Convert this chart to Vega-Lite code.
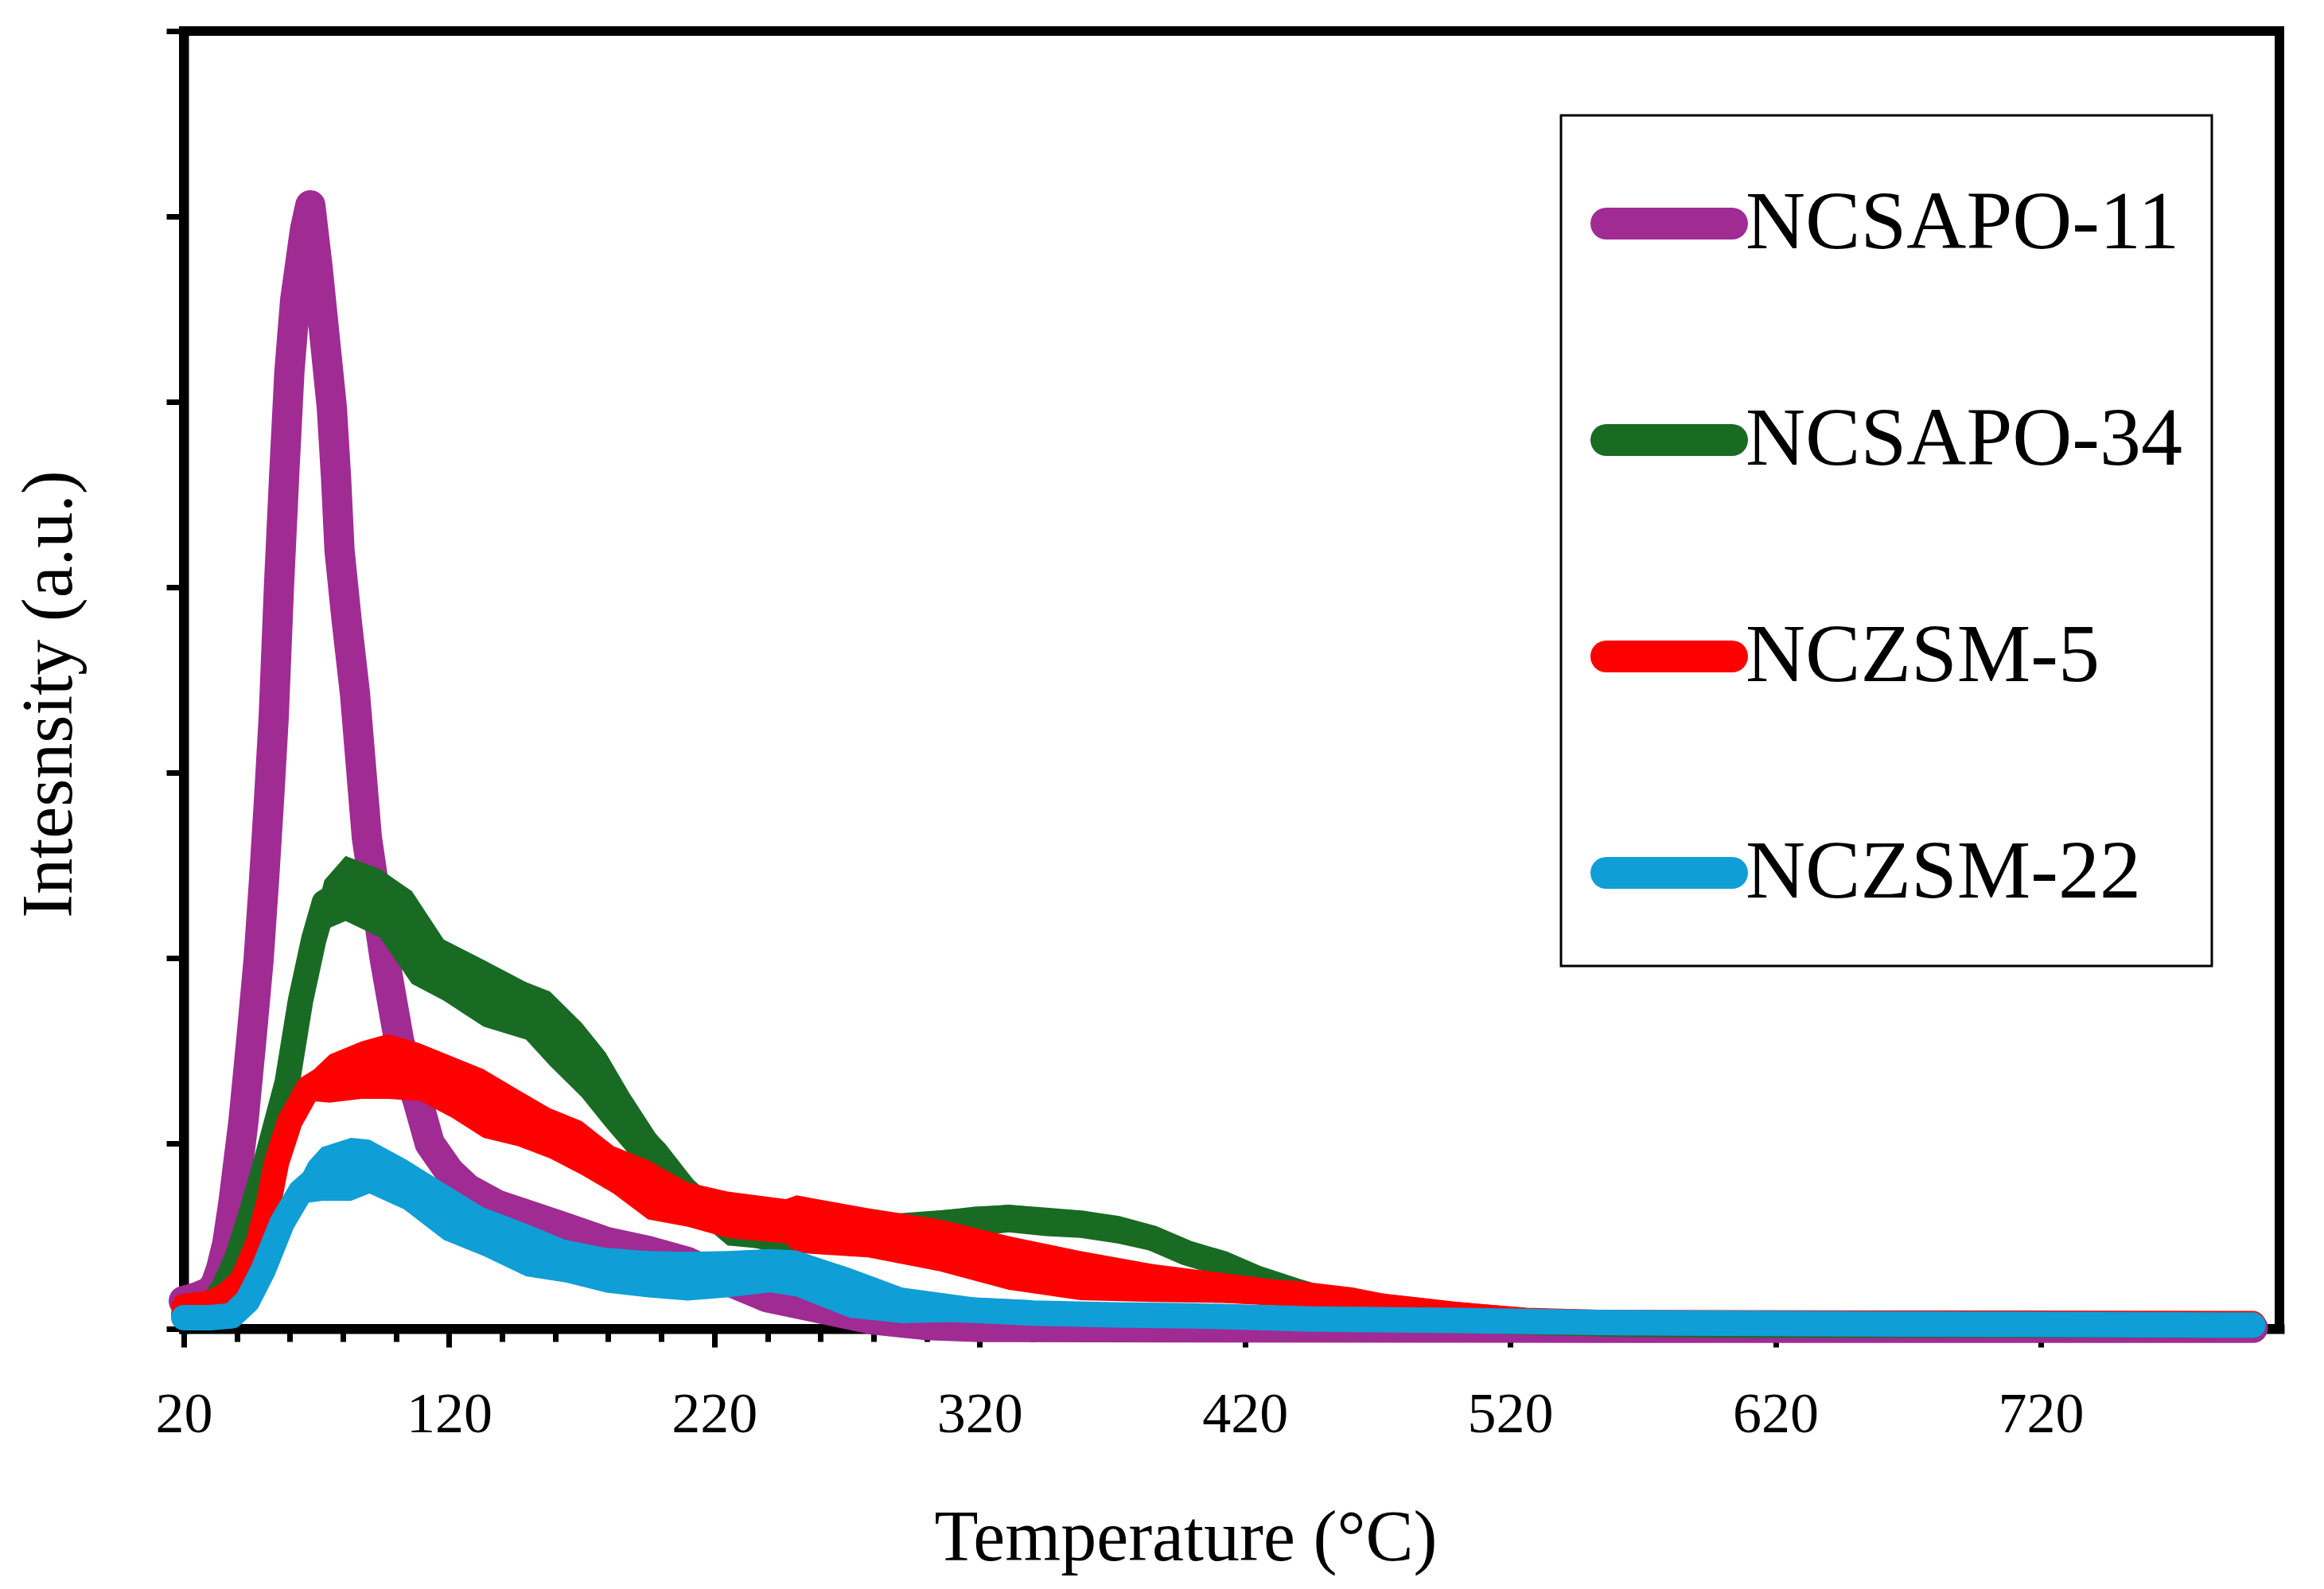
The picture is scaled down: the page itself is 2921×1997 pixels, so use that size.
{
  "$schema": "https://vega.github.io/schema/vega-lite/v6.json",
  "width": 2634,
  "height": 1631,
  "autosize": "none",
  "padding": {"left": 231, "top": 39, "right": 56, "bottom": 327},
  "background": "white",
  "datasets": {
    "tpd": [
      {"Sample": "NCSAPO-11", "T": 20, "I": 0.15}, {"Sample": "NCSAPO-11", "T": 25, "I": 0.17}, {"Sample": "NCSAPO-11", "T": 30, "I": 0.2}, {"Sample": "NCSAPO-11", "T": 32, "I": 0.24}, {"Sample": "NCSAPO-11", "T": 34, "I": 0.32}, {"Sample": "NCSAPO-11", "T": 36.4, "I": 0.46}, {"Sample": "NCSAPO-11", "T": 38.7, "I": 0.68}, {"Sample": "NCSAPO-11", "T": 42.5, "I": 1.12}, {"Sample": "NCSAPO-11", "T": 45.4, "I": 1.55}, {"Sample": "NCSAPO-11", "T": 48.2, "I": 1.99}, {"Sample": "NCSAPO-11", "T": 50.3, "I": 2.43}, {"Sample": "NCSAPO-11", "T": 52.2, "I": 2.87}, {"Sample": "NCSAPO-11", "T": 53.9, "I": 3.3}, {"Sample": "NCSAPO-11", "T": 55.9, "I": 4.01}, {"Sample": "NCSAPO-11", "T": 57.8, "I": 4.59}, {"Sample": "NCSAPO-11", "T": 59.8, "I": 5.16}, {"Sample": "NCSAPO-11", "T": 62, "I": 5.55}, {"Sample": "NCSAPO-11", "T": 65.7, "I": 5.93}, {"Sample": "NCSAPO-11", "T": 67.7, "I": 6.06}, {"Sample": "NCSAPO-11", "T": 70.4, "I": 5.73}, {"Sample": "NCSAPO-11", "T": 73.1, "I": 5.35}, {"Sample": "NCSAPO-11", "T": 75.8, "I": 4.97}, {"Sample": "NCSAPO-11", "T": 77.4, "I": 4.59}, {"Sample": "NCSAPO-11", "T": 78.7, "I": 4.2}, {"Sample": "NCSAPO-11", "T": 81.4, "I": 3.82}, {"Sample": "NCSAPO-11", "T": 84.5, "I": 3.43}, {"Sample": "NCSAPO-11", "T": 89, "I": 2.65}, {"Sample": "NCSAPO-11", "T": 95.8, "I": 1.99}, {"Sample": "NCSAPO-11", "T": 101.2, "I": 1.55}, {"Sample": "NCSAPO-11", "T": 108.4, "I": 1.22}, {"Sample": "NCSAPO-11", "T": 112.7, "I": 1.0}, {"Sample": "NCSAPO-11", "T": 120, "I": 0.85}, {"Sample": "NCSAPO-11", "T": 127, "I": 0.755}, {"Sample": "NCSAPO-11", "T": 138, "I": 0.67}, {"Sample": "NCSAPO-11", "T": 149, "I": 0.617}, {"Sample": "NCSAPO-11", "T": 165, "I": 0.54}, {"Sample": "NCSAPO-11", "T": 179, "I": 0.47}, {"Sample": "NCSAPO-11", "T": 195, "I": 0.42}, {"Sample": "NCSAPO-11", "T": 210, "I": 0.36}, {"Sample": "NCSAPO-11", "T": 225, "I": 0.26}, {"Sample": "NCSAPO-11", "T": 240, "I": 0.17}, {"Sample": "NCSAPO-11", "T": 260, "I": 0.11}, {"Sample": "NCSAPO-11", "T": 280, "I": 0.05}, {"Sample": "NCSAPO-11", "T": 300, "I": 0.02}, {"Sample": "NCSAPO-11", "T": 320, "I": 0.01}, {"Sample": "NCSAPO-11", "T": 400, "I": 0.008}, {"Sample": "NCSAPO-11", "T": 500, "I": 0.006}, {"Sample": "NCSAPO-11", "T": 600, "I": 0.005}, {"Sample": "NCSAPO-11", "T": 700, "I": 0.005}, {"Sample": "NCSAPO-11", "T": 800, "I": 0.005},

      {"Sample": "NCSAPO-34", "T": 20, "I": 0.08}, {"Sample": "NCSAPO-34", "T": 30, "I": 0.12}, {"Sample": "NCSAPO-34", "T": 35, "I": 0.22}, {"Sample": "NCSAPO-34", "T": 40, "I": 0.38}, {"Sample": "NCSAPO-34", "T": 45, "I": 0.6}, {"Sample": "NCSAPO-34", "T": 51, "I": 0.9}, {"Sample": "NCSAPO-34", "T": 59, "I": 1.33}, {"Sample": "NCSAPO-34", "T": 64, "I": 1.77}, {"Sample": "NCSAPO-34", "T": 69, "I": 2.1}, {"Sample": "NCSAPO-34", "T": 73, "I": 2.3}, {"Sample": "NCSAPO-34", "T": 81, "I": 2.37}, {"Sample": "NCSAPO-34", "T": 88, "I": 2.36}, {"Sample": "NCSAPO-34", "T": 94, "I": 2.3}, {"Sample": "NCSAPO-34", "T": 106, "I": 2.11}, {"Sample": "NCSAPO-34", "T": 118, "I": 1.94}, {"Sample": "NCSAPO-34", "T": 133, "I": 1.81}, {"Sample": "NCSAPO-34", "T": 149, "I": 1.72}, {"Sample": "NCSAPO-34", "T": 158, "I": 1.62}, {"Sample": "NCSAPO-34", "T": 170, "I": 1.45}, {"Sample": "NCSAPO-34", "T": 179, "I": 1.29}, {"Sample": "NCSAPO-34", "T": 188, "I": 1.1}, {"Sample": "NCSAPO-34", "T": 198, "I": 0.95}, {"Sample": "NCSAPO-34", "T": 210, "I": 0.73}, {"Sample": "NCSAPO-34", "T": 225, "I": 0.55}, {"Sample": "NCSAPO-34", "T": 240, "I": 0.49}, {"Sample": "NCSAPO-34", "T": 250, "I": 0.48}, {"Sample": "NCSAPO-34", "T": 265, "I": 0.5}, {"Sample": "NCSAPO-34", "T": 280, "I": 0.53}, {"Sample": "NCSAPO-34", "T": 300, "I": 0.56}, {"Sample": "NCSAPO-34", "T": 318, "I": 0.59}, {"Sample": "NCSAPO-34", "T": 331, "I": 0.6}, {"Sample": "NCSAPO-34", "T": 345, "I": 0.585}, {"Sample": "NCSAPO-34", "T": 358, "I": 0.57}, {"Sample": "NCSAPO-34", "T": 372, "I": 0.54}, {"Sample": "NCSAPO-34", "T": 385, "I": 0.49}, {"Sample": "NCSAPO-34", "T": 398, "I": 0.41}, {"Sample": "NCSAPO-34", "T": 412, "I": 0.35}, {"Sample": "NCSAPO-34", "T": 425, "I": 0.27}, {"Sample": "NCSAPO-34", "T": 439, "I": 0.205}, {"Sample": "NCSAPO-34", "T": 452, "I": 0.15}, {"Sample": "NCSAPO-34", "T": 470, "I": 0.1}, {"Sample": "NCSAPO-34", "T": 490, "I": 0.07}, {"Sample": "NCSAPO-34", "T": 520, "I": 0.04}, {"Sample": "NCSAPO-34", "T": 560, "I": 0.025}, {"Sample": "NCSAPO-34", "T": 600, "I": 0.02}, {"Sample": "NCSAPO-34", "T": 700, "I": 0.02}, {"Sample": "NCSAPO-34", "T": 800, "I": 0.02},

      {"Sample": "NCZSM-5", "T": 20, "I": 0.12}, {"Sample": "NCZSM-5", "T": 30, "I": 0.14}, {"Sample": "NCZSM-5", "T": 36, "I": 0.18}, {"Sample": "NCZSM-5", "T": 42, "I": 0.26}, {"Sample": "NCZSM-5", "T": 48, "I": 0.46}, {"Sample": "NCZSM-5", "T": 52, "I": 0.68}, {"Sample": "NCZSM-5", "T": 55, "I": 0.9}, {"Sample": "NCZSM-5", "T": 60, "I": 1.12}, {"Sample": "NCZSM-5", "T": 67, "I": 1.3}, {"Sample": "NCZSM-5", "T": 75, "I": 1.37}, {"Sample": "NCZSM-5", "T": 87, "I": 1.41}, {"Sample": "NCZSM-5", "T": 97, "I": 1.42}, {"Sample": "NCZSM-5", "T": 109, "I": 1.38}, {"Sample": "NCZSM-5", "T": 121, "I": 1.3}, {"Sample": "NCZSM-5", "T": 133, "I": 1.21}, {"Sample": "NCZSM-5", "T": 146, "I": 1.14}, {"Sample": "NCZSM-5", "T": 158, "I": 1.05}, {"Sample": "NCZSM-5", "T": 170, "I": 0.97}, {"Sample": "NCZSM-5", "T": 182, "I": 0.86}, {"Sample": "NCZSM-5", "T": 195, "I": 0.75}, {"Sample": "NCZSM-5", "T": 210, "I": 0.67}, {"Sample": "NCZSM-5", "T": 225, "I": 0.62}, {"Sample": "NCZSM-5", "T": 247, "I": 0.58}, {"Sample": "NCZSM-5", "T": 260, "I": 0.56}, {"Sample": "NCZSM-5", "T": 278, "I": 0.52}, {"Sample": "NCZSM-5", "T": 305, "I": 0.45}, {"Sample": "NCZSM-5", "T": 331, "I": 0.36}, {"Sample": "NCZSM-5", "T": 358, "I": 0.29}, {"Sample": "NCZSM-5", "T": 385, "I": 0.25}, {"Sample": "NCZSM-5", "T": 412, "I": 0.21}, {"Sample": "NCZSM-5", "T": 439, "I": 0.19}, {"Sample": "NCZSM-5", "T": 460, "I": 0.155}, {"Sample": "NCZSM-5", "T": 473, "I": 0.118}, {"Sample": "NCZSM-5", "T": 499, "I": 0.076}, {"Sample": "NCZSM-5", "T": 526, "I": 0.045}, {"Sample": "NCZSM-5", "T": 553, "I": 0.034}, {"Sample": "NCZSM-5", "T": 600, "I": 0.032}, {"Sample": "NCZSM-5", "T": 700, "I": 0.03}, {"Sample": "NCZSM-5", "T": 800, "I": 0.028},

      {"Sample": "NCZSM-22", "T": 20, "I": 0.06}, {"Sample": "NCZSM-22", "T": 30, "I": 0.06}, {"Sample": "NCZSM-22", "T": 38, "I": 0.07}, {"Sample": "NCZSM-22", "T": 44, "I": 0.15}, {"Sample": "NCZSM-22", "T": 50, "I": 0.32}, {"Sample": "NCZSM-22", "T": 57, "I": 0.57}, {"Sample": "NCZSM-22", "T": 64, "I": 0.74}, {"Sample": "NCZSM-22", "T": 72, "I": 0.84}, {"Sample": "NCZSM-22", "T": 80, "I": 0.86}, {"Sample": "NCZSM-22", "T": 90, "I": 0.87}, {"Sample": "NCZSM-22", "T": 103, "I": 0.78}, {"Sample": "NCZSM-22", "T": 118, "I": 0.63}, {"Sample": "NCZSM-22", "T": 133, "I": 0.52}, {"Sample": "NCZSM-22", "T": 149, "I": 0.425}, {"Sample": "NCZSM-22", "T": 164, "I": 0.365}, {"Sample": "NCZSM-22", "T": 179, "I": 0.315}, {"Sample": "NCZSM-22", "T": 195, "I": 0.29}, {"Sample": "NCZSM-22", "T": 210, "I": 0.28}, {"Sample": "NCZSM-22", "T": 225, "I": 0.29}, {"Sample": "NCZSM-22", "T": 241, "I": 0.3}, {"Sample": "NCZSM-22", "T": 251, "I": 0.29}, {"Sample": "NCZSM-22", "T": 262, "I": 0.23}, {"Sample": "NCZSM-22", "T": 271, "I": 0.19}, {"Sample": "NCZSM-22", "T": 291, "I": 0.115}, {"Sample": "NCZSM-22", "T": 318, "I": 0.1}, {"Sample": "NCZSM-22", "T": 340, "I": 0.085}, {"Sample": "NCZSM-22", "T": 370, "I": 0.075}, {"Sample": "NCZSM-22", "T": 400, "I": 0.07}, {"Sample": "NCZSM-22", "T": 446, "I": 0.053}, {"Sample": "NCZSM-22", "T": 500, "I": 0.045}, {"Sample": "NCZSM-22", "T": 553, "I": 0.034}, {"Sample": "NCZSM-22", "T": 600, "I": 0.03}, {"Sample": "NCZSM-22", "T": 650, "I": 0.027}, {"Sample": "NCZSM-22", "T": 700, "I": 0.025}, {"Sample": "NCZSM-22", "T": 750, "I": 0.022}, {"Sample": "NCZSM-22", "T": 800, "I": 0.02}
    ],
    "band": [
      {"Sample": "NCSAPO-34", "T": 69, "hi": 2.2, "lo": 2.0}, {"Sample": "NCSAPO-34", "T": 73, "hi": 2.42, "lo": 2.15}, {"Sample": "NCSAPO-34", "T": 81, "hi": 2.55, "lo": 2.2}, {"Sample": "NCSAPO-34", "T": 94, "hi": 2.48, "lo": 2.11}, {"Sample": "NCSAPO-34", "T": 106, "hi": 2.36, "lo": 1.86}, {"Sample": "NCSAPO-34", "T": 118, "hi": 2.1, "lo": 1.77}, {"Sample": "NCSAPO-34", "T": 133, "hi": 1.99, "lo": 1.63}, {"Sample": "NCSAPO-34", "T": 149, "hi": 1.87, "lo": 1.56}, {"Sample": "NCSAPO-34", "T": 158, "hi": 1.82, "lo": 1.42}, {"Sample": "NCSAPO-34", "T": 170, "hi": 1.65, "lo": 1.25}, {"Sample": "NCSAPO-34", "T": 179, "hi": 1.49, "lo": 1.09}, {"Sample": "NCSAPO-34", "T": 188, "hi": 1.27, "lo": 0.94}, {"Sample": "NCSAPO-34", "T": 198, "hi": 1.05, "lo": 0.85}, {"Sample": "NCSAPO-34", "T": 210, "hi": 0.83, "lo": 0.63}, {"Sample": "NCSAPO-34", "T": 225, "hi": 0.64, "lo": 0.45}, {"Sample": "NCSAPO-34", "T": 247, "hi": 0.58, "lo": 0.42}, {"Sample": "NCSAPO-34", "T": 265, "hi": 0.6, "lo": 0.4}, {"Sample": "NCSAPO-34", "T": 291, "hi": 0.625, "lo": 0.45}, {"Sample": "NCSAPO-34", "T": 318, "hi": 0.653, "lo": 0.5}, {"Sample": "NCSAPO-34", "T": 331, "hi": 0.669, "lo": 0.52}, {"Sample": "NCSAPO-34", "T": 345, "hi": 0.65, "lo": 0.5}, {"Sample": "NCSAPO-34", "T": 358, "hi": 0.634, "lo": 0.49}, {"Sample": "NCSAPO-34", "T": 372, "hi": 0.605, "lo": 0.46}, {"Sample": "NCSAPO-34", "T": 385, "hi": 0.558, "lo": 0.42}, {"Sample": "NCSAPO-34", "T": 398, "hi": 0.471, "lo": 0.34}, {"Sample": "NCSAPO-34", "T": 412, "hi": 0.414, "lo": 0.28}, {"Sample": "NCSAPO-34", "T": 425, "hi": 0.337, "lo": 0.2}, {"Sample": "NCSAPO-34", "T": 439, "hi": 0.27, "lo": 0.14}, {"Sample": "NCSAPO-34", "T": 452, "hi": 0.213, "lo": 0.09}, {"Sample": "NCSAPO-34", "T": 470, "hi": 0.17, "lo": 0.05},

      {"Sample": "NCZSM-5", "T": 67, "hi": 1.37, "lo": 1.23}, {"Sample": "NCZSM-5", "T": 75, "hi": 1.48, "lo": 1.22}, {"Sample": "NCZSM-5", "T": 87, "hi": 1.55, "lo": 1.24}, {"Sample": "NCZSM-5", "T": 97, "hi": 1.59, "lo": 1.24}, {"Sample": "NCZSM-5", "T": 109, "hi": 1.54, "lo": 1.23}, {"Sample": "NCZSM-5", "T": 121, "hi": 1.47, "lo": 1.14}, {"Sample": "NCZSM-5", "T": 133, "hi": 1.4, "lo": 1.03}, {"Sample": "NCZSM-5", "T": 146, "hi": 1.29, "lo": 0.985}, {"Sample": "NCZSM-5", "T": 158, "hi": 1.19, "lo": 0.92}, {"Sample": "NCZSM-5", "T": 170, "hi": 1.12, "lo": 0.83}, {"Sample": "NCZSM-5", "T": 182, "hi": 0.985, "lo": 0.73}, {"Sample": "NCZSM-5", "T": 195, "hi": 0.91, "lo": 0.59}, {"Sample": "NCZSM-5", "T": 210, "hi": 0.79, "lo": 0.55}, {"Sample": "NCZSM-5", "T": 225, "hi": 0.74, "lo": 0.49}, {"Sample": "NCZSM-5", "T": 247, "hi": 0.7, "lo": 0.46}, {"Sample": "NCZSM-5", "T": 251, "hi": 0.72, "lo": 0.41}, {"Sample": "NCZSM-5", "T": 278, "hi": 0.65, "lo": 0.385}, {"Sample": "NCZSM-5", "T": 305, "hi": 0.59, "lo": 0.31}, {"Sample": "NCZSM-5", "T": 331, "hi": 0.5, "lo": 0.21}, {"Sample": "NCZSM-5", "T": 358, "hi": 0.42, "lo": 0.155}, {"Sample": "NCZSM-5", "T": 385, "hi": 0.35, "lo": 0.145}, {"Sample": "NCZSM-5", "T": 412, "hi": 0.3, "lo": 0.14}, {"Sample": "NCZSM-5", "T": 439, "hi": 0.251, "lo": 0.12}, {"Sample": "NCZSM-5", "T": 460, "hi": 0.203, "lo": 0.1}, {"Sample": "NCZSM-5", "T": 473, "hi": 0.189, "lo": 0.06}, {"Sample": "NCZSM-5", "T": 499, "hi": 0.147, "lo": 0.03}, {"Sample": "NCZSM-5", "T": 526, "hi": 0.112, "lo": 0.0},

      {"Sample": "NCZSM-22", "T": 62, "hi": 0.76, "lo": 0.64}, {"Sample": "NCZSM-22", "T": 67, "hi": 0.9, "lo": 0.68}, {"Sample": "NCZSM-22", "T": 72, "hi": 0.98, "lo": 0.69}, {"Sample": "NCZSM-22", "T": 83, "hi": 1.03, "lo": 0.69}, {"Sample": "NCZSM-22", "T": 90, "hi": 1.02, "lo": 0.73}, {"Sample": "NCZSM-22", "T": 103, "hi": 0.92, "lo": 0.645}, {"Sample": "NCZSM-22", "T": 118, "hi": 0.787, "lo": 0.48}, {"Sample": "NCZSM-22", "T": 133, "hi": 0.655, "lo": 0.393}, {"Sample": "NCZSM-22", "T": 149, "hi": 0.568, "lo": 0.283}, {"Sample": "NCZSM-22", "T": 164, "hi": 0.48, "lo": 0.25}, {"Sample": "NCZSM-22", "T": 179, "hi": 0.437, "lo": 0.196}, {"Sample": "NCZSM-22", "T": 195, "hi": 0.42, "lo": 0.17}, {"Sample": "NCZSM-22", "T": 210, "hi": 0.415, "lo": 0.152}, {"Sample": "NCZSM-22", "T": 225, "hi": 0.42, "lo": 0.17}, {"Sample": "NCZSM-22", "T": 241, "hi": 0.43, "lo": 0.196}, {"Sample": "NCZSM-22", "T": 251, "hi": 0.423, "lo": 0.174}, {"Sample": "NCZSM-22", "T": 262, "hi": 0.37, "lo": 0.11}, {"Sample": "NCZSM-22", "T": 271, "hi": 0.328, "lo": 0.06}, {"Sample": "NCZSM-22", "T": 291, "hi": 0.222, "lo": 0.03}, {"Sample": "NCZSM-22", "T": 318, "hi": 0.17, "lo": 0.04}, {"Sample": "NCZSM-22", "T": 340, "hi": 0.154, "lo": 0.02}
    ]
  },
  "data": {"name": "tpd"},
  "encoding": {
    "x": {
      "field": "T",
      "type": "quantitative",
      "scale": {"domain": [20, 810], "nice": false, "zero": false},
      "axis": {
        "title": "Temperature (°C)",
        "values": [20, 40, 60, 80, 100, 120, 140, 160, 180, 200, 220, 240, 260, 280, 300, 320, 340, 360, 380, 400, 420, 440, 460, 480, 500, 520, 540, 560, 580, 600, 620, 640, 660, 680, 700, 720, 740, 760, 780, 800],
        "labelExpr": "(datum.value - 20) % 100 === 0 ? datum.label : ''",
        "labelOverlap": false,
        "labelFlush": false,
        "tickSize": {"condition": {"test": "(datum.value - 20) % 100 === 0", "value": 23}, "value": 16},
        "labelPadding": 49,
        "titleX": 1259,
        "titleY": 290,
        "titleAlign": "center",
        "titleBaseline": "alphabetic"
      }
    },
    "y": {
      "field": "I",
      "type": "quantitative",
      "scale": {"domain": [0, 7], "nice": false},
      "axis": {
        "title": "Intesnsity (a.u.)",
        "values": [0, 1, 2, 3, 4, 5, 6, 7],
        "labels": false,
        "tickSize": 22,
        "titleAngle": 270,
        "titleX": -142,
        "titleY": 833,
        "titleAlign": "center",
        "titleBaseline": "alphabetic"
      }
    },
    "color": {
      "field": "Sample",
      "type": "nominal",
      "scale": {
        "domain": ["NCSAPO-11", "NCSAPO-34", "NCZSM-5", "NCZSM-22"],
        "range": ["#A02B93", "#196B24", "#FF0000", "#0F9ED5"]
      },
      "legend": {
        "orient": "none",
        "legendX": 1731,
        "legendY": 106,
        "title": null,
        "direction": "vertical",
        "symbolType": "stroke",
        "symbolSize": 24964,
        "symbolStrokeWidth": 40,
        "labelFontSize": 104,
        "labelLimit": 2000,
        "padding": 37,
        "rowPadding": 93,
        "labelOffset": -3,
        "strokeColor": "black",
        "fillColor": "white",
        "encode": {
          "symbols": {"update": {"strokeCap": {"value": "round"}}},
          "legend": {"update": {"strokeWidth": {"value": 3}}}
        }
      }
    }
  },
  "layer": [
    {
      "transform": [{"filter": "datum.Sample === 'NCSAPO-11'"}],
      "mark": {"type": "line", "strokeWidth": 38, "strokeCap": "round", "strokeJoin": "round"}
    },
    {
      "data": {"name": "band"},
      "transform": [{"filter": "datum.Sample === 'NCSAPO-34'"}],
      "mark": {"type": "area", "opacity": 1},
      "encoding": {
        "y": {"field": "hi", "type": "quantitative", "scale": {"domain": [0, 7], "nice": false}, "title": "Intesnsity (a.u.)"},
        "y2": {"field": "lo"}
      }
    },
    {
      "transform": [{"filter": "datum.Sample === 'NCSAPO-34'"}],
      "mark": {"type": "line", "strokeWidth": 32, "strokeCap": "round", "strokeJoin": "round"}
    },
    {
      "data": {"name": "band"},
      "transform": [{"filter": "datum.Sample === 'NCZSM-5'"}],
      "mark": {"type": "area", "opacity": 1},
      "encoding": {
        "y": {"field": "hi", "type": "quantitative", "scale": {"domain": [0, 7], "nice": false}, "title": "Intesnsity (a.u.)"},
        "y2": {"field": "lo"}
      }
    },
    {
      "transform": [{"filter": "datum.Sample === 'NCZSM-5'"}],
      "mark": {"type": "line", "strokeWidth": 32, "strokeCap": "round", "strokeJoin": "round"}
    },
    {
      "data": {"name": "band"},
      "transform": [{"filter": "datum.Sample === 'NCZSM-22'"}],
      "mark": {"type": "area", "opacity": 1},
      "encoding": {
        "y": {"field": "hi", "type": "quantitative", "scale": {"domain": [0, 7], "nice": false}, "title": "Intesnsity (a.u.)"},
        "y2": {"field": "lo"}
      }
    },
    {
      "transform": [{"filter": "datum.Sample === 'NCZSM-22'"}],
      "mark": {"type": "line", "strokeWidth": 32, "strokeCap": "round", "strokeJoin": "round"}
    }
  ],
  "config": {
    "font": "Liberation Serif",
    "view": {"stroke": "black", "strokeWidth": 12},
    "axis": {
      "grid": false,
      "domainColor": "black",
      "domainWidth": 12,
      "domainCap": "square",
      "tickColor": "black",
      "tickWidth": 7,
      "labelFont": "Liberation Serif",
      "labelFontSize": 72,
      "labelColor": "black",
      "titleFont": "Liberation Serif",
      "titleFontSize": 90,
      "titleFontWeight": "normal",
      "titleColor": "black"
    },
    "legend": {
      "labelFont": "Liberation Serif",
      "labelColor": "black"
    }
  }
}
